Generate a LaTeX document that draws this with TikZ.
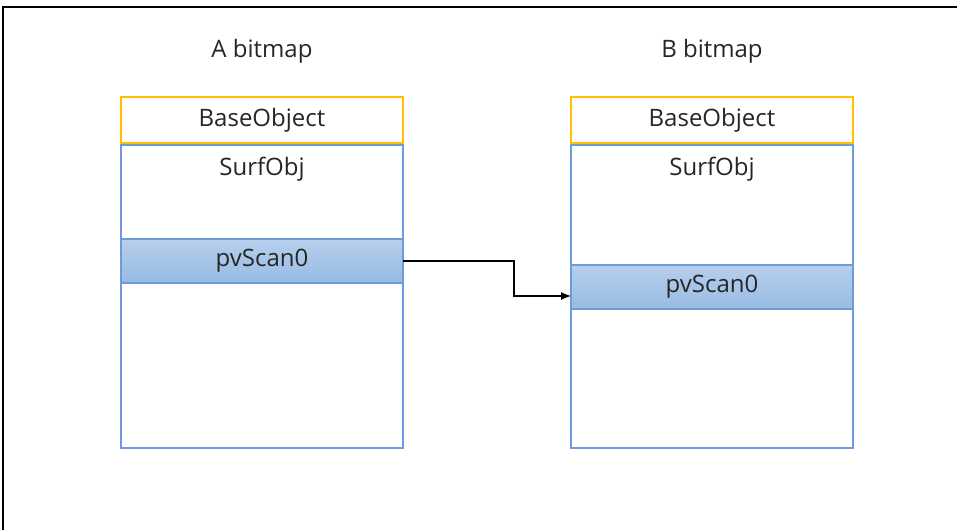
\documentclass[tikz,border=0pt]{standalone}
\usepackage{fontspec}
\setmainfont{Open Sans}
\usetikzlibrary{positioning,arrows.meta}

\definecolor{headyellow}{HTML}{FFC000}
\definecolor{boxblue}{HTML}{6F9BDC}
\definecolor{scantop}{HTML}{B7CFEC}
\definecolor{scanbot}{HTML}{97BBE4}

\begin{document}
\begin{tikzpicture}[x=1pt,y=-1pt,>={Latex[length=10pt,width=8pt]},node distance=0pt,
  every node/.style={font=\fontsize{24}{28}\selectfont,text=black!85,inner sep=0pt,outer sep=0pt},
  headbox/.style={draw=headyellow,line width=1.2pt,fill=white,minimum width=282pt,minimum height=46pt},
  bodybox/.style={draw=boxblue,line width=1.2pt,fill=white,minimum width=282pt,minimum height=303pt},
  scanbox/.style={draw=boxblue,line width=1.2pt,top color=scantop,bottom color=scanbot,minimum width=282pt,minimum height=44pt}]
  \useasboundingbox (0,0) rectangle (957,530);
  % frame of the screenshot
  \draw[line width=1.5pt] (3,530) -- (3,7) -- (957,7);
  % A bitmap
  \node (titleA) at (262,51) {A bitmap};
  \node[headbox] (baseA) at (262,120) {BaseObject};
  \node[bodybox,below=2pt of baseA] (bodyA) {};
  \node[below=12pt of bodyA.north] (surfA) {SurfObj};
  \node[scanbox] (scanA) at (262,261) {pvScan0};
  % B bitmap
  \node (titleB) at (712,51) {B bitmap};
  \node[headbox] (baseB) at (712,120) {BaseObject};
  \node[bodybox,below=2pt of baseB] (bodyB) {};
  \node[below=12pt of bodyB.north] (surfB) {SurfObj};
  \node[scanbox] (scanB) at (712,287) {pvScan0};
  % pointer
  \draw[->,line width=1.2pt] (scanA.east) -- ++(111,0) |- ([yshift=-9pt]scanB.west);
\end{tikzpicture}
\end{document}
